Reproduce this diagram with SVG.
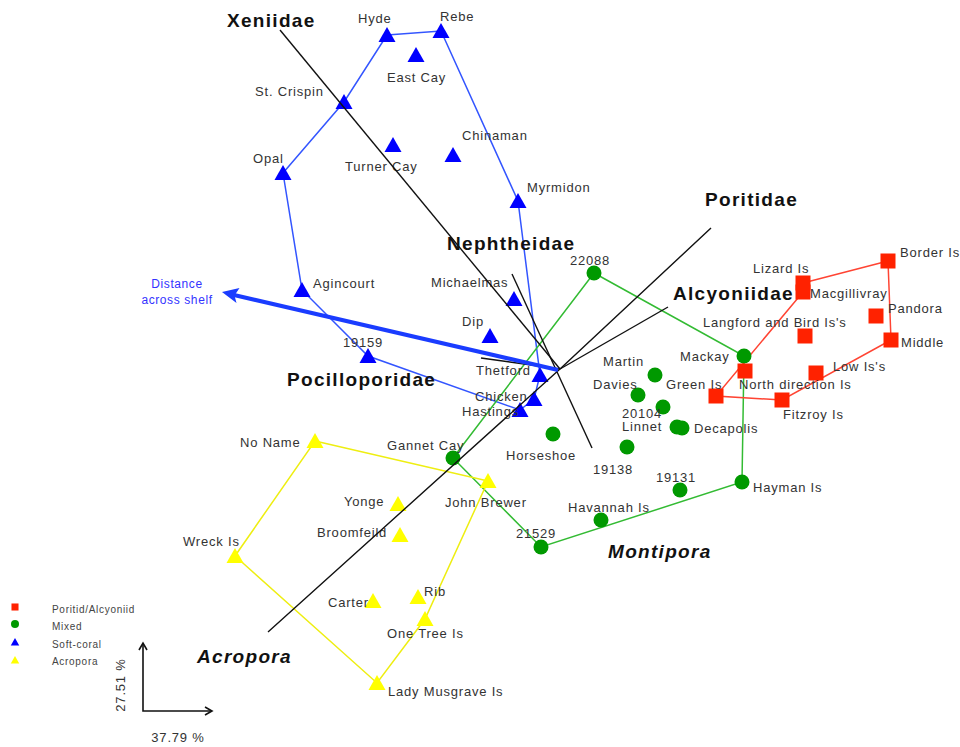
<svg xmlns="http://www.w3.org/2000/svg" xmlns:xlink="http://www.w3.org/1999/xlink" width="960" height="747" viewBox="0 0 960 747">
<defs>
<style>
.lbl{font-family:"Liberation Sans",Arial,sans-serif;font-size:13px;letter-spacing:0.8px;fill:#333}
.tax{font-family:"Liberation Sans",Arial,sans-serif;font-size:19px;font-weight:bold;letter-spacing:1.3px;fill:#111}
.it{font-style:italic}
.leg{font-family:"Liberation Sans",Arial,sans-serif;font-size:10px;letter-spacing:0.7px;fill:#444}
.vec{stroke:#111;stroke-width:1.4;fill:none}
.hb{stroke:#3355ff;stroke-width:1.5;fill:none}
.hg{stroke:#33bb33;stroke-width:1.5;fill:none}
.hr{stroke:#ff4433;stroke-width:1.5;fill:none}
.hy{stroke:#eeee11;stroke-width:1.5;fill:none}
.tb{fill:#0000ff}
.cg{fill:#009900}
.sr{fill:#ff2200}
.ty{fill:#ffff00}
.ax{stroke:#111;stroke-width:1.6;fill:none}
</style>
<path id="tri" d="M0,-8 L8.5,7 L-8.5,7 Z"/>
<circle id="cir" r="7.5"/>
<rect id="sq" x="-7.5" y="-7.5" width="15" height="15"/>
</defs>
<rect width="960" height="747" fill="#fff"/>

<g id="hulls">
<polygon class="hb" points="387,35 441,31 518,201 540,375 534,399 520,410 368,356 302,290 283,173 344,102"/>
<polygon class="hg" points="594,273 744,356 742,482 541,547 453,458"/>
<polygon class="hr" points="803,283 888,261 891,340 782,400 716,396 803,292"/>
<polygon class="hy" points="315,441 488,481 425,619 377,683 235,556"/>
</g>

<g id="softcoral">
<g id="hyde"><use xlink:href="#tri" x="387" y="35" class="tb"/><text class="lbl" x="358" y="23">Hyde</text></g>
<g id="rebe"><use xlink:href="#tri" x="441" y="31" class="tb"/><text class="lbl" x="440" y="21">Rebe</text></g>
<g id="eastcay"><use xlink:href="#tri" x="416" y="55" class="tb"/><text class="lbl" x="387" y="82">East Cay</text></g>
<g id="stcrispin"><use xlink:href="#tri" x="344" y="102" class="tb"/><text class="lbl" x="255" y="96">St. Crispin</text></g>
<g id="turnercay"><use xlink:href="#tri" x="393" y="145" class="tb"/><text class="lbl" x="345" y="171">Turner Cay</text></g>
<g id="chinaman"><use xlink:href="#tri" x="453" y="155" class="tb"/><text class="lbl" x="462" y="140">Chinaman</text></g>
<g id="opal"><use xlink:href="#tri" x="283" y="173" class="tb"/><text class="lbl" x="253" y="163">Opal</text></g>
<g id="myrmidon"><use xlink:href="#tri" x="518" y="201" class="tb"/><text class="lbl" x="527" y="192">Myrmidon</text></g>
<g id="agincourt"><use xlink:href="#tri" x="302" y="290" class="tb"/><text class="lbl" x="313" y="288">Agincourt</text></g>
<g id="michaelmas"><use xlink:href="#tri" x="514" y="299" class="tb"/><text class="lbl" x="431" y="287">Michaelmas</text></g>
<g id="dip"><use xlink:href="#tri" x="490" y="336" class="tb"/><text class="lbl" x="462" y="326">Dip</text></g>
<g id="n19159"><use xlink:href="#tri" x="368" y="356" class="tb"/><text class="lbl" x="343" y="347">19159</text></g>
<g id="thetford"><use xlink:href="#tri" x="540" y="375" class="tb"/><text class="lbl" x="476" y="375">Thetford</text></g>
<g id="chicken"><use xlink:href="#tri" x="534" y="399" class="tb"/><text class="lbl" x="475" y="401">Chicken</text></g>
<g id="hastings"><use xlink:href="#tri" x="520" y="410" class="tb"/><text class="lbl" x="462" y="416">Hastings</text></g>
</g>

<g id="mixed">
<g id="n22088"><use xlink:href="#cir" x="594" y="273" class="cg"/><text class="lbl" x="570" y="265">22088</text></g>
<g id="mackay"><use xlink:href="#cir" x="744" y="356" class="cg"/><text class="lbl" x="680" y="361">Mackay</text></g>
<g id="martin"><use xlink:href="#cir" x="655" y="375" class="cg"/><text class="lbl" x="603" y="366">Martin</text></g>
<g id="davies"><use xlink:href="#cir" x="638" y="395" class="cg"/><text class="lbl" x="593" y="389">Davies</text></g>
<g id="n20104"><use xlink:href="#cir" x="663" y="407" class="cg"/><text class="lbl" x="622" y="418">20104</text></g>
<g id="linnet"><use xlink:href="#cir" x="677" y="427" class="cg"/><text class="lbl" x="622" y="431">Linnet</text></g>
<g id="decapolis"><use xlink:href="#cir" x="682" y="428" class="cg"/><text class="lbl" x="694" y="433">Decapolis</text></g>
<g id="horseshoe"><use xlink:href="#cir" x="553" y="434" class="cg"/><text class="lbl" x="506" y="460">Horseshoe</text></g>
<g id="n19138"><use xlink:href="#cir" x="627" y="447" class="cg"/><text class="lbl" x="593" y="474">19138</text></g>
<g id="gannetcay"><use xlink:href="#cir" x="453" y="458" class="cg"/><text class="lbl" x="387" y="450">Gannet Cay</text></g>
<g id="havannah"><use xlink:href="#cir" x="601" y="520" class="cg"/><text class="lbl" x="568" y="512">Havannah Is</text></g>
<g id="n21529"><use xlink:href="#cir" x="541" y="547" class="cg"/><text class="lbl" x="516" y="538">21529</text></g>
<g id="n19131"><use xlink:href="#cir" x="680" y="490" class="cg"/><text class="lbl" x="656" y="482">19131</text></g>
<g id="hayman"><use xlink:href="#cir" x="742" y="482" class="cg"/><text class="lbl" x="753" y="492">Hayman Is</text></g>
</g>

<g id="poritid">
<g id="border"><use xlink:href="#sq" x="888" y="261" class="sr"/><text class="lbl" x="900" y="257">Border Is</text></g>
<g id="lizard"><use xlink:href="#sq" x="803" y="283" class="sr"/><text class="lbl" x="753" y="273">Lizard Is</text></g>
<g id="macgillivray"><use xlink:href="#sq" x="803" y="292" class="sr"/><text class="lbl" x="810" y="298">Macgillivray</text></g>
<g id="pandora"><use xlink:href="#sq" x="876" y="316" class="sr"/><text class="lbl" x="888" y="313">Pandora</text></g>
<g id="langford"><use xlink:href="#sq" x="805" y="336" class="sr"/><text class="lbl" x="703" y="327">Langford and Bird Is's</text></g>
<g id="middle"><use xlink:href="#sq" x="891" y="340" class="sr"/><text class="lbl" x="901" y="347">Middle</text></g>
<g id="lowis"><use xlink:href="#sq" x="816" y="373" class="sr"/><text class="lbl" x="833" y="371">Low Is's</text></g>
<g id="northdirection"><use xlink:href="#sq" x="745" y="371" class="sr"/><text class="lbl" x="739" y="389">North direction Is</text></g>
<g id="fitzroy"><use xlink:href="#sq" x="782" y="400" class="sr"/><text class="lbl" x="783" y="419">Fitzroy Is</text></g>
<g id="greenis"><use xlink:href="#sq" x="716" y="396" class="sr"/><text class="lbl" x="666" y="389">Green Is</text></g>
</g>

<g id="acropora">
<g id="noname"><use xlink:href="#tri" x="315" y="441" class="ty"/><text class="lbl" x="240" y="447">No Name</text></g>
<g id="johnbrewer"><use xlink:href="#tri" x="488" y="481" class="ty"/><text class="lbl" x="445" y="507">John Brewer</text></g>
<g id="yonge"><use xlink:href="#tri" x="398" y="504" class="ty"/><text class="lbl" x="344" y="506">Yonge</text></g>
<g id="broomfeild"><use xlink:href="#tri" x="400" y="535" class="ty"/><text class="lbl" x="317" y="537">Broomfeild</text></g>
<g id="wreck"><use xlink:href="#tri" x="235" y="556" class="ty"/><text class="lbl" x="183" y="546">Wreck Is</text></g>
<g id="carter"><use xlink:href="#tri" x="373" y="601" class="ty"/><text class="lbl" x="328" y="607">Carter</text></g>
<g id="rib"><use xlink:href="#tri" x="418" y="597" class="ty"/><text class="lbl" x="424" y="596">Rib</text></g>
<g id="onetree"><use xlink:href="#tri" x="425" y="619" class="ty"/><text class="lbl" x="387" y="638">One Tree Is</text></g>
<g id="ladymusgrave"><use xlink:href="#tri" x="377" y="683" class="ty"/><text class="lbl" x="388" y="696">Lady Musgrave Is</text></g>
</g>

<g id="vectors">
<line class="vec" x1="280" y1="30" x2="560" y2="369"/>
<line class="vec" x1="512" y1="274" x2="592" y2="448"/>
<line class="vec" x1="481" y1="358" x2="560" y2="369"/>
<line class="vec" x1="668" y1="307" x2="560" y2="369"/>
<polyline class="vec" points="711,228 560,369 268,632"/>
<line x1="558" y1="370" x2="234" y2="295" stroke="#1a3cff" stroke-width="4"/>
<polygon points="222,292 239.5,288 234.5,295.5 236.5,303" fill="#1a3cff"/>
</g>

<g id="taxa">
<text class="tax" x="227" y="27">Xeniidae</text>
<text class="tax" x="447" y="250">Nephtheidae</text>
<text class="tax" x="705" y="206">Poritidae</text>
<text class="tax" x="673" y="300">Alcyoniidae</text>
<text class="tax" x="287" y="386">Pocilloporidae</text>
<text class="tax it" x="608" y="558">Montipora</text>
<text class="tax it" x="197" y="663">Acropora</text>
</g>

<g id="distance">
<text class="lbl" x="177" y="288" text-anchor="middle" style="fill:#3333ff;font-size:12px;letter-spacing:0.6px">Distance</text>
<text class="lbl" x="177" y="304" text-anchor="middle" style="fill:#3333ff;font-size:12px;letter-spacing:0.6px">across shelf</text>
</g>

<g id="legend">
<use xlink:href="#sq" transform="translate(15,607) scale(0.47)" class="sr"/>
<circle cx="15" cy="624" r="4" class="cg"/>
<use xlink:href="#tri" transform="translate(15,642) scale(0.5)" class="tb"/>
<use xlink:href="#tri" transform="translate(15,660) scale(0.5)" class="ty"/>
<text class="leg" x="52" y="613">Poritid/Alcyoniid</text>
<text class="leg" x="52" y="630">Mixed</text>
<text class="leg" x="52" y="648">Soft-coral</text>
<text class="leg" x="52" y="665">Acropora</text>
</g>

<g id="axes">
<polyline class="ax" points="143,643 143,711 212,711"/>
<polyline class="ax" points="139,650 143,643 147,650"/>
<polyline class="ax" points="205,707 212,711 205,715"/>
<text class="lbl" transform="translate(125,685) rotate(-90)" text-anchor="middle">27.51 %</text>
<text class="lbl" x="178" y="742" text-anchor="middle">37.79 %</text>
</g>
</svg>
